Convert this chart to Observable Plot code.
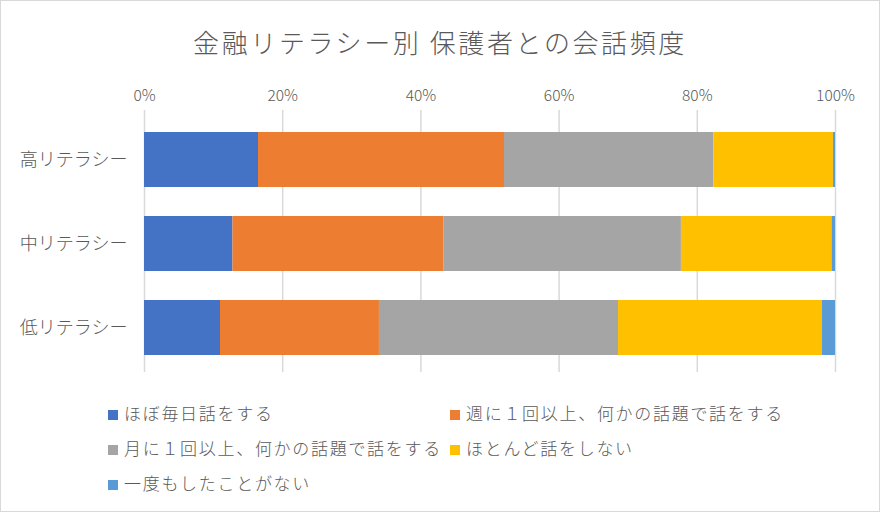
<!DOCTYPE html>
<html><head><meta charset="utf-8">
<script src="https://cdn.jsdelivr.net/npm/d3@7"></script>
<script src="https://cdn.jsdelivr.net/npm/@observablehq/plot@0.6"></script>
<style>
html,body{margin:0;padding:0;background:#fff;}
#box{position:relative;width:878px;height:510px;border:1px solid #d9d9d9;overflow:hidden;
 font-family:"Noto Sans CJK JP","Noto Sans",sans-serif;font-weight:300;color:#595959;}
#title{position:absolute;left:0;top:0;width:878px;height:70px;line-height:82px;text-align:center;font-size:26px;letter-spacing:2.6px;}
#chart{position:absolute;left:0;top:70px;}
.lg{position:absolute;font-size:17px;letter-spacing:1.7px;white-space:nowrap;line-height:20px;}
.lg i{display:inline-block;width:10px;height:10px;margin-right:6px;vertical-align:0px;}
</style></head>
<body><div id="box"><div id="title">金融リテラシー別 保護者との会話頻度</div><div id="chart"></div><div id="legend"></div></div>
<script>
const categories = ["高リテラシー", "中リテラシー", "低リテラシー"];
const series = ["ほぼ毎日話をする", "週に１回以上、何かの話題で話をする", "月に１回以上、何かの話題で話をする", "ほとんど話をしない", "一度もしたことがない"];
const colors = ["#4472C4", "#ED7D31", "#A5A5A5", "#FFC000", "#5B9BD5"];
const highValues = [16.5, 35.6, 30.3, 17.3, 0.3];
const midValues = [12.8, 30.5, 34.4, 21.8, 0.5];
const lowValues = [11.0, 23.0, 34.6, 29.5, 1.9];
const xTicks = [0, 0.2, 0.4, 0.6, 0.8, 1];

const valuesByCat = [highValues, midValues, lowValues];
const data = [];
categories.forEach((c, i) => series.forEach((s, j) => data.push({cat: c, series: s, value: valuesByCat[i][j] / 100})));

const chart = Plot.plot({
  width: 878, height: 310,
  marginTop: 39, marginBottom: 9, marginLeft: 143, marginRight: 44,
  style: {fontFamily: "'Noto Sans CJK JP','Noto Sans',sans-serif", fontWeight: 300, color: "#595959", background: "transparent"},
  x: {domain: [0, 1], axis: null, label: null},
  y: {domain: categories, range: [60, 286], paddingInner: 0.34, paddingOuter: 0, axis: null, label: null},
  color: {domain: series, range: colors},
  marks: [
    Plot.gridX(xTicks, {stroke: "#d9d9d9", strokeOpacity: 1, strokeWidth: 1.5}),
    Plot.barX(data, Plot.stackX({x: "value", y: "cat", fill: "series", order: series, inset: 0})),
    Plot.axisX(xTicks, {anchor: "top", label: null, tickSize: 0, tickPadding: 10, tickFormat: d3.format(".0%"), fontSize: 15.5, fill: "#595959"}),
    Plot.axisY({label: null, tickSize: 0, tickPadding: 17, fontSize: 18, fill: "#595959", style: "letter-spacing:5px"})
  ]
});
document.getElementById("chart").appendChild(chart);

const legendPos = [[107, 402], [449, 402], [107, 437], [449, 437], [107, 472]];
const lg = document.getElementById("legend");
series.forEach((s, i) => {
  const d = document.createElement("div");
  d.className = "lg";
  d.style.left = legendPos[i][0] + "px";
  d.style.top = legendPos[i][1] + "px";
  d.innerHTML = `<i style="background:${colors[i]}"></i>${s}`;
  lg.appendChild(d);
});
</script></body></html>
